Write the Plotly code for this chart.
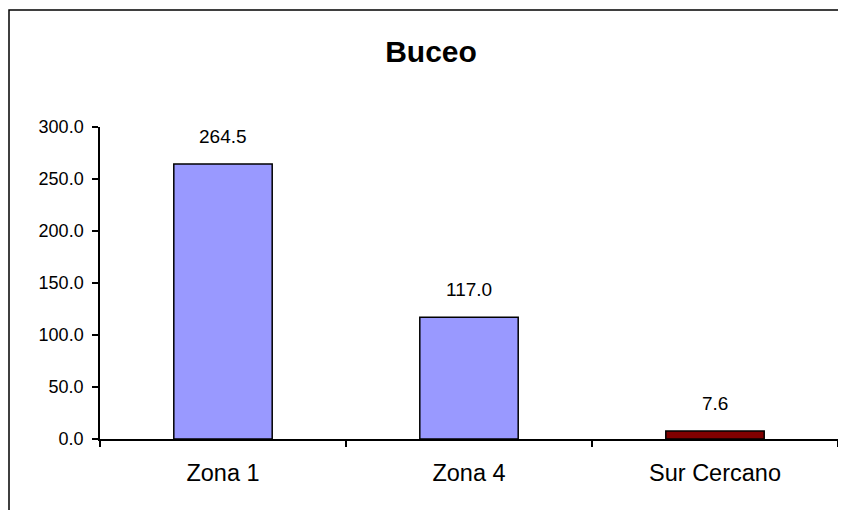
import plotly.graph_objects as go

categories = ["Zona 1", "Zona 4", "Sur Cercano"]
values = [264.5, 117.0, 7.6]
bar_colors = ["#9999FF", "#9999FF", "#800000"]
y_ticks = [0, 50, 100, 150, 200, 250, 300]
title_text = "Buceo"

FONT = "Liberation Sans, Arial, sans-serif"
W, H = 846, 510
L, R, T, B = 92, 16, 119, 79
pw, ph = W - L - R, H - T - B

fig = go.Figure()
fig.add_trace(go.Bar(
    x=categories, y=values, width=0.4,
    marker=dict(color=bar_colors, line=dict(color="black", width=1.5)),
    hoverinfo="skip",
))

for c, v in zip(categories, values):
    fig.add_annotation(x=c, y=v, text=f"{v:.1f}", showarrow=False,
                       yanchor="bottom", yshift=15,
                       font=dict(family=FONT, size=19, color="black"))

# outer chart border (left/top visible)
fig.add_shape(type="rect", xref="paper", yref="paper",
              x0=(1 - L) / pw, x1=(W + 20 - L) / pw,
              y0=(T + ph - (H + 20)) / ph, y1=(T + ph - 2) / ph,
              line=dict(color="black", width=1.5), fillcolor="rgba(0,0,0,0)", layer="below")

fig.update_layout(
    width=W, height=H,
    margin=dict(l=L, r=R, t=T, b=B),
    paper_bgcolor="white", plot_bgcolor="white",
    showlegend=False,
    font=dict(family=FONT, size=18, color="black"),
    title=dict(text=f"<b>{title_text}</b>", x=423 / W, xanchor="center",
               y=1 - 43 / H, yanchor="middle", yref="container",
               font=dict(family=FONT, size=30, color="black")),
)
fig.update_xaxes(
    type="category", range=[-0.5, 2.5],
    showline=True, linecolor="black", linewidth=1.5,
    ticks="outside", tickson="boundaries", ticklen=6, tickcolor="black", tickwidth=1.5,
    showgrid=False, zeroline=False, ticklabelstandoff=12,
    tickfont=dict(family=FONT, size=23.5, color="black"),
)
fig.update_yaxes(
    range=[0, 300], tickvals=y_ticks, tickformat=".1f",
    showline=True, linecolor="black", linewidth=1.5,
    ticks="outside", ticklen=6, tickcolor="black", tickwidth=1.5,
    showgrid=False, zeroline=False, ticklabelstandoff=5,
    tickfont=dict(family=FONT, size=18, color="black"),
)

fig.write_html("out.html")
